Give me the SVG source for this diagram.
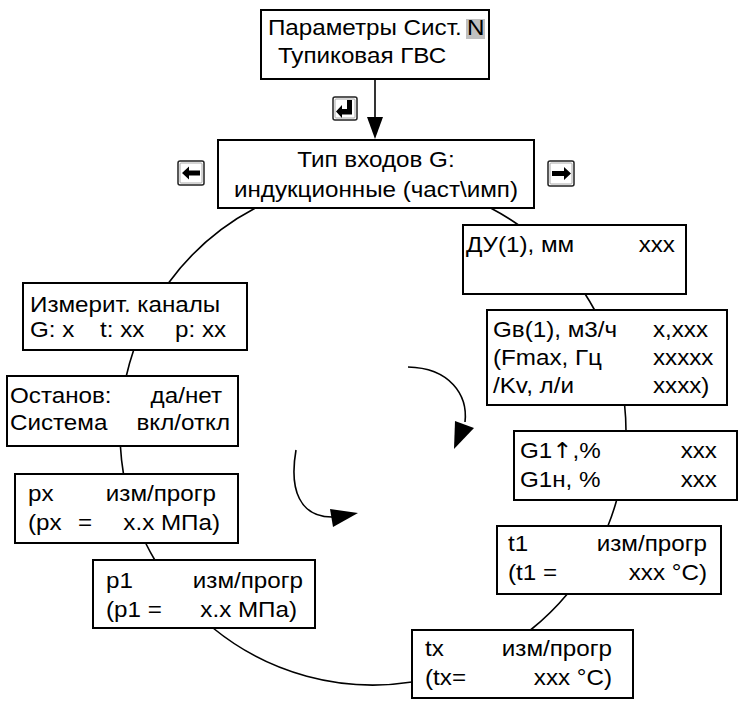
<svg xmlns="http://www.w3.org/2000/svg" width="739" height="704" viewBox="0 0 739 704">
<defs>
<style>
.box{fill:#fff;stroke:#000;stroke-width:2}
.con{fill:none;stroke:#000;stroke-width:1.6}
.t{font-family:"Liberation Sans",Arial,"Noto Sans",sans-serif;font-size:22px;fill:#000}
.arr{font-family:"DejaVu Sans",sans-serif}
.key{fill:#fff;stroke:#222;stroke-width:1.5}
.keyin{fill:none;stroke:#aaa;stroke-width:1}
.glyph{fill:#000}
</style>
</defs>
<rect width="739" height="704" fill="#fff"/>

<g id="connectors">
<line class="con" x1="375" y1="79" x2="375" y2="118" stroke-width="2"/>
<polygon points="367,117 383,117 375,139" fill="#000"/>
<path class="con" d="M168.5,283 A253,253 0 0 1 255.4,208"/>
<path class="con" d="M490.6,208 A253,253 0 0 1 518.5,225"/>
<path class="con" d="M585.1,294 A253,253 0 0 1 594.6,310"/>
<path class="con" d="M624.6,405 A253,253 0 0 1 626,431"/>
<path class="con" d="M616.7,500 A253,253 0 0 1 607.9,526"/>
<path class="con" d="M567.3,594 A253,253 0 0 1 530.5,630"/>
<path class="con" d="M412,682 A253,253 0 0 1 213,628"/>
<path class="con" d="M154.8,560 A253,253 0 0 1 145.6,543"/>
<path class="con" d="M123.5,474 A253,253 0 0 1 120.4,446"/>
<path class="con" d="M126.3,376 A253,253 0 0 1 133.7,350"/>
<path class="con" d="M408,367 C450,368 468,395 465,422"/>
<polygon points="455,421 474,428 454,449" fill="#000"/>
<path class="con" d="M296,450 C289,490 300,517 332,517"/>
<polygon points="330,509 358,513 333,527" fill="#000"/>
</g>

<g id="key-enter">
<rect class="key" x="333" y="97" width="24" height="23" rx="2"/>
<rect class="keyin" x="335" y="99" width="20" height="19" rx="1"/>
<path class="glyph" d="M352,100 L352,114.5 L342,114.5 L342,118 L336,111.5 L342,105 L342,109 L347,109 L347,100 Z"/>
</g>
<g id="key-left">
<rect class="key" x="178" y="161" width="26" height="24" rx="2"/>
<rect class="keyin" x="180" y="163" width="22" height="20" rx="1"/>
<path class="glyph" d="M182,173 L189,166.5 L189,170.5 L200,170.5 L200,175.5 L189,175.5 L189,179.5 Z"/>
</g>
<g id="key-right">
<rect class="key" x="548" y="161" width="26" height="25" rx="2"/>
<rect class="keyin" x="550" y="163" width="22" height="21" rx="1"/>
<path class="glyph" d="M571,173.5 L564,167 L564,171 L552,171 L552,176 L564,176 L564,180 Z"/>
</g>

<g id="n-params">
<rect class="box" x="261" y="10" width="228" height="69"/>
<rect x="466" y="19" width="19" height="20" fill="#c0c0c0"/>
<g transform="scale(1.1 1)">
<text class="t" x="243.6" y="35">Параметры Сист.<tspan x="424.5">N</tspan></text>
<text class="t" x="252.7" y="63">Тупиковая ГВС</text>
</g>
</g>

<g id="n-input-type">
<rect class="box" x="218" y="140" width="316" height="68"/>
<g transform="scale(1.1 1)">
<text class="t" x="341.8" y="167" text-anchor="middle">Тип входов G:</text>
<text class="t" x="341.8" y="197" text-anchor="middle">индукционные (част\имп)</text>
</g>
</g>

<g id="n-channels">
<rect class="box" x="23" y="283" width="224" height="67"/>
<g transform="scale(1.1 1)">
<text class="t" x="27.3" y="312">Измерит. каналы</text>
<text class="t" x="27.3" y="337">G: x<tspan x="90.9">t: xx</tspan><tspan x="159.1">p: xx</tspan></text>
</g>
</g>

<g id="n-stop">
<rect class="box" x="7" y="376" width="231" height="70"/>
<g transform="scale(1.1 1)">
<text class="t" x="9.1" y="403">Останов:<tspan x="201.8" text-anchor="end">да/нет</tspan></text>
<text class="t" x="9.1" y="430">Система<tspan x="209.1" text-anchor="end">вкл/откл</tspan></text>
</g>
</g>

<g id="n-px">
<rect class="box" x="15" y="474" width="223" height="69"/>
<g transform="scale(1.1 1)">
<text class="t" x="25.5" y="501">px<tspan x="196.4" text-anchor="end">изм/прогр</tspan></text>
<text class="t" x="25.5" y="530">(px<tspan x="70.9">=</tspan><tspan x="200" text-anchor="end">x.x МПа)</tspan></text>
</g>
</g>

<g id="n-p1">
<rect class="box" x="93" y="560" width="222" height="68"/>
<g transform="scale(1.1 1)">
<text class="t" x="96.4" y="588">p1<tspan x="275.5" text-anchor="end">изм/прогр</tspan></text>
<text class="t" x="96.4" y="617">(p1 =<tspan x="270" text-anchor="end">x.x МПа)</tspan></text>
</g>
</g>

<g id="n-du">
<rect class="box" x="463" y="225" width="223" height="69"/>
<g transform="scale(1.1 1)">
<text class="t" x="423.6" y="252">ДУ(1), мм<tspan x="613.6" text-anchor="end">xxx</tspan></text>
</g>
</g>

<g id="n-gv">
<rect class="box" x="487" y="310" width="240" height="95"/>
<g transform="scale(1.1 1)">
<text class="t" x="448.2" y="337">Gв(1), м3/ч<tspan x="593.6">x,xxx</tspan></text>
<text class="t" x="448.2" y="365">(Fmax, Гц<tspan x="593.6">xxxxx</tspan></text>
<text class="t" x="448.2" y="393">/Kv, л/и<tspan x="593.6">xxxx)</tspan></text>
</g>
</g>

<g id="n-g1">
<rect class="box" x="514" y="431" width="223" height="69"/>
<g transform="scale(1.1 1)">
<text class="t" x="472.7" y="458">G1<tspan class="arr">↑</tspan>,%<tspan x="651.8" text-anchor="end">xxx</tspan></text>
<text class="t" x="472.7" y="487">G1н, %<tspan x="651.8" text-anchor="end">xxx</tspan></text>
</g>
</g>

<g id="n-t1">
<rect class="box" x="497" y="526" width="224" height="68"/>
<g transform="scale(1.1 1)">
<text class="t" x="461.8" y="551">t1<tspan x="642.7" text-anchor="end">изм/прогр</tspan></text>
<text class="t" x="461.8" y="580">(t1 =<tspan x="642.7" text-anchor="end">xxx °C)</tspan></text>
</g>
</g>

<g id="n-tx">
<rect class="box" x="412" y="630" width="221" height="68"/>
<g transform="scale(1.1 1)">
<text class="t" x="386.4" y="656">tx<tspan x="556.4" text-anchor="end">изм/прогр</tspan></text>
<text class="t" x="386.4" y="685">(tx=<tspan x="556.4" text-anchor="end">xxx °C)</tspan></text>
</g>
</g>
</svg>
